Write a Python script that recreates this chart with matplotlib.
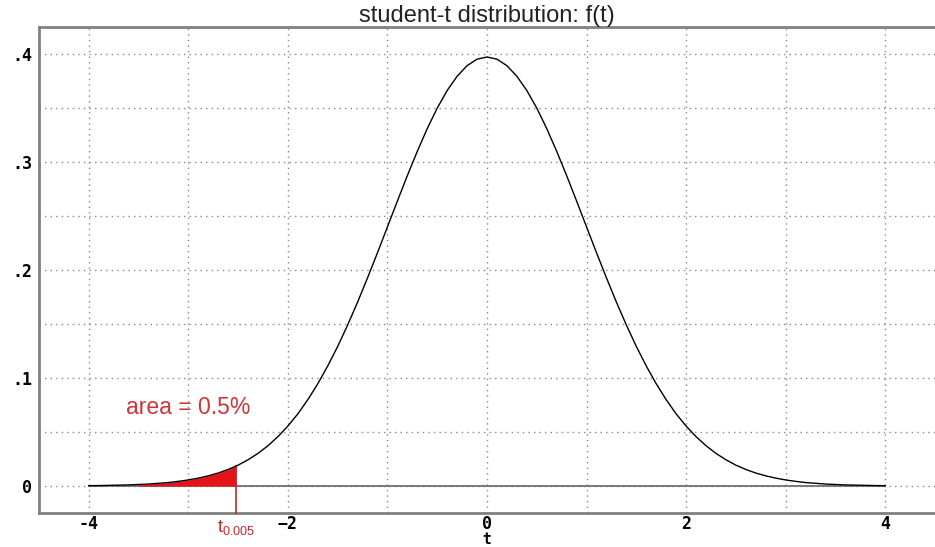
import numpy as np
import matplotlib as mpl
mpl.use("Agg")
import matplotlib.pyplot as plt
from matplotlib.transforms import blended_transform_factory

# density values, t = -4 .. 4 in steps of 0.1
t = np.round(np.arange(-40, 41) / 10.0, 1)
f_right = [0.3972, 0.3952, 0.3892, 0.3794, 0.3662, 0.3499, 0.3310, 0.3099, 0.2874, 0.2639,
           0.2399, 0.2160, 0.1927, 0.1702, 0.1490, 0.1292, 0.1111, 0.0946, 0.0799, 0.0668,
           0.0555, 0.0457, 0.0373, 0.0302, 0.0243, 0.0193, 0.0153, 0.0120, 0.0094, 0.0073,
           0.0056, 0.0043, 0.0032, 0.0025, 0.0018, 0.0014, 0.0010, 0.0008, 0.0006, 0.0004,
           0.0003]
f = np.array(f_right[::-1] + f_right[1:])

t_crit = -2.52      # t_0.005 as placed in the picture
f_crit = 0.0186     # curve height at t_crit
fill_start = -3.5   # the red area starts about here

xticks = [-4, -2, 0, 2, 4]
xtick_labels = ['-4', '\u22122', '0', '2', '4']
yticks = [0, 0.1, 0.2, 0.3, 0.4]
ytick_labels = ['0', '.1', '.2', '.3', '.4']

fig = plt.figure(figsize=(9.35, 5.47), dpi=100)
ax = fig.add_axes([39/935, 34/547, 1 - 39/935, 486/547])

ax.set_xlim(-4.5, 4.5)
ax.set_ylim(-0.025, 0.425)

# grid: every 1 on t, every .05 on f
for gx in np.arange(-4, 5):
    ax.axvline(gx, color='#888888', lw=1, ls=(0, (1, 3)), zorder=1)
for gy in np.arange(0, 0.45, 0.05):
    ax.axhline(gy, color='#888888', lw=1, ls=(0, (1, 3)), zorder=1)

# baseline across the data range
ax.plot([t[0], t[-1]], [0, 0], color='#707070', lw=1.3, zorder=2)

# red tail area
mask = (t >= fill_start) & (t < t_crit)
tx = np.append(t[mask], t_crit)
ty = np.append(f[mask], f_crit)
ax.fill_between(tx, 0, ty, color='#e3121b', lw=0, zorder=3)
ax.plot([t_crit, t_crit], [-0.025, f_crit], color='#c0282a', lw=1.2, zorder=4, clip_on=False)

ax.plot(t, f, color='black', lw=1.0, zorder=5)

ax.text(-3.63, 0.073, 'area = 0.5%', color='#d0343a', fontsize=16.5,
        family='Liberation Sans', ha='left', va='center')
ax.text(t_crit, -0.038, r'$\mathregular{t_{0.005}}$', color='#c0282a', fontsize=13,
        family='Liberation Sans', ha='center', va='center')

ax.set_title('student-t distribution: f(t)', fontsize=17, family='Liberation Sans',
             pad=1, color='#222222')

ax.set_xticks(xticks)
ax.set_xticklabels(xtick_labels)
ax.set_yticks(yticks)
ax.set_yticklabels(ytick_labels)
ax.tick_params(length=0, labelsize=12)
ax.tick_params(axis='x', pad=1.5)
ax.tick_params(axis='y', pad=5)
for lab in ax.get_xticklabels() + ax.get_yticklabels():
    lab.set_family('DejaVu Sans Mono')
    lab.set_fontweight('bold')

# axis name "t" just under the 0 tick
trans = blended_transform_factory(ax.transData, fig.transFigure)
ax.text(0, 0.5/547, 't', transform=trans, fontsize=10.5, family='DejaVu Sans Mono',
        fontweight='bold', ha='center', va='bottom')

for side in ['left', 'bottom', 'top']:
    ax.spines[side].set_color('#808080')
    ax.spines[side].set_linewidth(2)
ax.spines['right'].set_visible(False)

fig.savefig('out.png', dpi=100)
